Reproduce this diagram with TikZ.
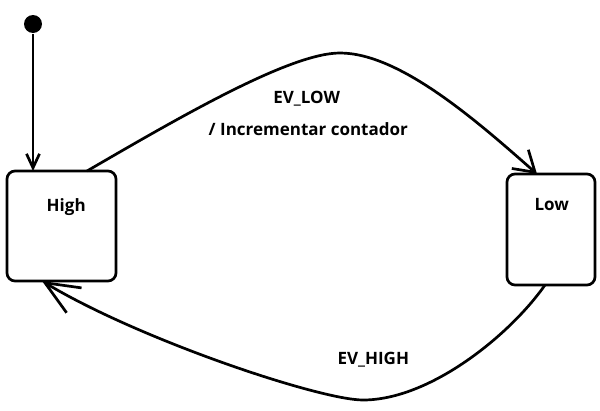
\documentclass[tikz,border=0pt]{standalone}
\usepackage{fontspec}
\setmainfont{Open Sans}
\usetikzlibrary{arrows.meta,calc}
\begin{document}
\begin{tikzpicture}[x=1pt,y=-1pt,line width=2.7pt,
  statebox/.style={draw,rounded corners=8pt,inner sep=0pt,outer sep=0pt},
  lbl/.style={anchor=base,inner sep=0pt,font=\bfseries\fontsize{17}{20}\selectfont},
  arrV/.style={-{Straight Barb[length=14pt,width=13pt]}},
  arrT/.style={-{Straight Barb[length=20pt,width=25pt]}},
  arrB/.style={-{Straight Barb[length=34pt,width=29pt]}}]
\useasboundingbox (0,0) rectangle (600,410);
\node[circle,fill,minimum size=18pt,inner sep=0pt] (init) at (33,24) {};
\node[statebox,minimum width=109pt,minimum height=110pt] (high) at (61.5,226) {};
\node[statebox,minimum width=88pt,minimum height=111pt] (low) at (551,229.5) {};
\node[lbl] (hightxt) at (66.2,211.7) {High};
\node[lbl] (lowtxt) at (551.7,210.7) {Low};
\node[lbl] (evlow) at (306.7,103.3) {EV\_LOW};
\node[lbl] (action) at (308.3,135) {/ Incrementar contador};
\node[lbl] (evhigh) at (373.3,364) {EV\_HIGH};
\coordinate (peak) at (340,53);
\coordinate (bottom) at (363,400);
\draw[arrV] (init) -- (init |- high.north);
\draw[arrT] ($(high.north)+(25.5,0)$) .. controls (180,117) and (290,53) .. (peak)
  .. controls (400,53) and (478,122) .. ($(low.north)+(-14,0)$);
\draw[arrB] ($(low.south)+(-6,0)$) .. controls (510,335) and (430,400) .. (bottom)
  .. controls (320,400) and (140,340) .. ($(high.south)+(-19.5,0)$);
\end{tikzpicture}
\end{document}
